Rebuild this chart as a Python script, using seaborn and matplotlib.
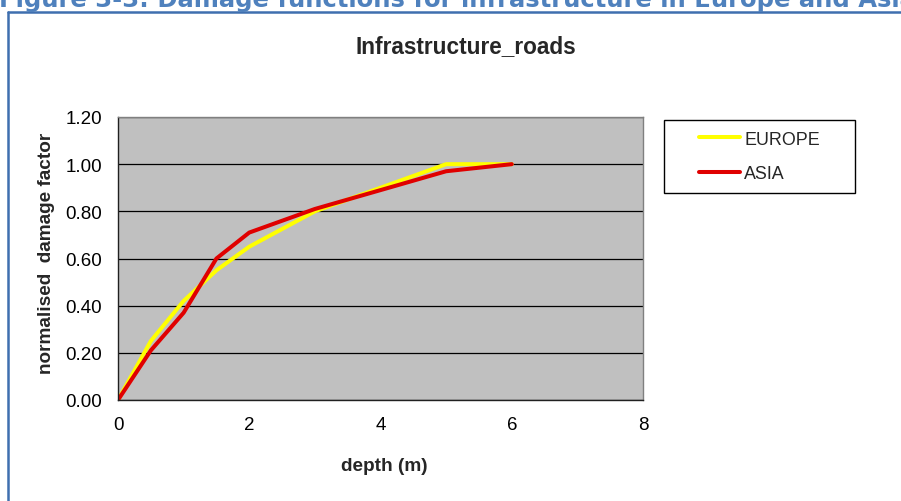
import pandas as pd
import matplotlib.pyplot as plt
import seaborn as sns
from matplotlib.lines import Line2D
from matplotlib.patches import Rectangle

# data
depth = [0, 0.5, 1, 1.5, 2, 3, 4, 5, 6]
europe = [0, 0.25, 0.42, 0.55, 0.65, 0.80, 0.90, 1.00, 1.00]
asia = [0, 0.21, 0.37, 0.60, 0.71, 0.81, 0.89, 0.97, 1.00]
series_names = ["EUROPE", "ASIA"]
y_ticks = [0.0, 0.2, 0.4, 0.6, 0.8, 1.0, 1.2]
x_ticks = [0, 2, 4, 6, 8]

df = pd.concat([
    pd.DataFrame({"depth": depth, "factor": europe, "region": "EUROPE"}),
    pd.DataFrame({"depth": depth, "factor": asia, "region": "ASIA"}),
], ignore_index=True)

sns.set_style("white")
plt.rcParams['font.family'] = ['Liberation Sans', 'DejaVu Sans']

W, H = 901, 502
fig = plt.figure(figsize=(W / 100, H / 100), dpi=100)
ax = fig.add_axes([118 / W, 1 - 401 / H, (643 - 118) / W, (401 - 118) / H])

palette = {"EUROPE": "#FFFF00", "ASIA": "#E00000"}
sns.lineplot(data=df, x="depth", y="factor", hue="region", hue_order=series_names,
             palette=palette, linewidth=2.9, ax=ax, legend=False, sort=False)

ax.set_facecolor("#C0C0C0")
ax.set_xlim(0, 8)
ax.set_ylim(0, 1.2)
ax.set_xticks(x_ticks)
ax.set_yticks(y_ticks)
ax.set_yticklabels([f"{v:.2f}" for v in y_ticks])
ax.yaxis.grid(True, color="black", linewidth=0.9)
ax.set_axisbelow(True)
ax.tick_params(axis="both", direction="out", length=4.5, width=0.9, color="black",
               labelsize=13.5, labelcolor="black")
ax.tick_params(axis="y", pad=7)
ax.tick_params(axis="x", pad=7)
for s in ["left", "bottom"]:
    ax.spines[s].set_color("#202020")
    ax.spines[s].set_linewidth(1.0)
for s in ["top", "right"]:
    ax.spines[s].set_color("#808080")
    ax.spines[s].set_linewidth(1.0)
ax.set_xlabel("")
ax.set_ylabel("")

fig.text(384 / W, 1 - 467 / H, "depth (m)", ha="center", va="center",
         fontsize=13.7, fontweight="bold")
fig.text(47 / W, 1 - 253 / H, "normalised  damage factor", ha="center", va="center",
         rotation=90, fontsize=13.7, fontweight="bold")
fig.text(466 / W, 1 - 47 / H, "Infrastructure_roads", ha="center", va="center",
         fontsize=16.3, fontweight="bold")

# legend box
fig.patches.append(Rectangle((664 / W, 1 - 194 / H), (855 - 664) / W, (194 - 121) / H,
                             transform=fig.transFigure, facecolor="white",
                             edgecolor="black", linewidth=1.0))
handles = [Line2D([], [], color=palette[n], linewidth=2.9) for n in series_names]
fig.legend(handles, series_names, loc="center left",
           bbox_to_anchor=(699 / W, 1 - 157.5 / H), bbox_transform=fig.transFigure,
           frameon=False, borderpad=0, borderaxespad=0, fontsize=12.9,
           handlelength=2.3, handletextpad=0.22, labelspacing=1.0)

# outer chart frame and cropped caption
fig.add_artist(Line2D([7.5 / W, 7.5 / W], [0, 1 - 13 / H], transform=fig.transFigure,
                      color="#3F6FAF", linewidth=1.8))
fig.add_artist(Line2D([7.5 / W, 1], [1 - 13 / H, 1 - 13 / H], transform=fig.transFigure,
                      color="#3F6FAF", linewidth=1.8))
cap = fig.text(-1 / W, 1 - 7 / H, "Figure 3-3: Damage functions for infrastructure in Europe and Asia",
               ha="left", va="baseline", fontsize=14, fontweight="bold",
               color="#4F81BD", family="DejaVu Sans")
fig.canvas.draw()
w = cap.get_window_extent().width
cap.set_fontsize(14 * 920 / w)

fig.savefig("out.png", dpi=100)
